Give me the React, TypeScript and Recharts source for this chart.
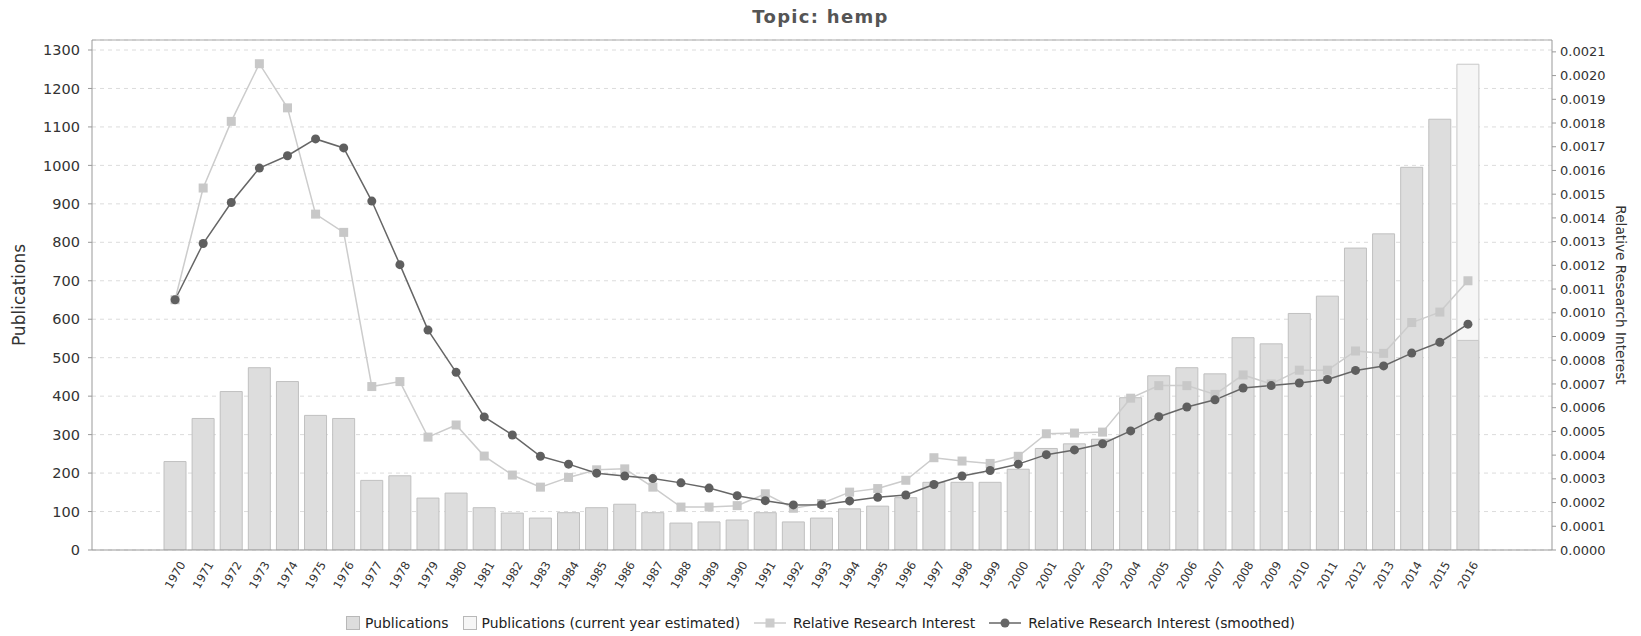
import {
	ComposedChart,
	Bar,
	Line,
	XAxis,
	YAxis,
	CartesianGrid,
	ReferenceLine,
} from "recharts";

const years = [
	"1970", "1971", "1972", "1973", "1974", "1975", "1976", "1977", "1978", "1979",
	"1980", "1981", "1982", "1983", "1984", "1985", "1986", "1987", "1988", "1989",
	"1990", "1991", "1992", "1993", "1994", "1995", "1996", "1997", "1998", "1999",
	"2000", "2001", "2002", "2003", "2004", "2005", "2006", "2007", "2008", "2009",
	"2010", "2011", "2012", "2013", "2014", "2015", "2016",
];

const publications = [
	230, 342, 412, 474, 438, 350, 342, 181, 193, 135,
	148, 110, 96, 83, 97, 110, 119, 97, 70, 73,
	78, 97, 73, 83, 107, 114, 136, 176, 176, 176,
	210, 264, 276, 288, 396, 453, 474, 458, 552, 536,
	615, 660, 785, 822, 995, 1120, 545,
];

// only the current year has an estimate
const estimatedYear = "2016";
const estimatedTotal = 1263;

const relativeInterest = [
	0.001055, 0.001526, 0.001807, 0.00205, 0.001864, 0.001416, 0.001339, 0.000689, 0.00071, 0.000476,
	0.000527, 0.000396, 0.000316, 0.000265, 0.000306, 0.000338, 0.000342, 0.000265, 0.000181, 0.000181,
	0.000187, 0.000237, 0.000176, 0.000196, 0.000244, 0.000259, 0.000294, 0.000389, 0.000375, 0.000365,
	0.000395, 0.00049, 0.000493, 0.000497, 0.00064, 0.000693, 0.000693, 0.000656, 0.000738, 0.0007,
	0.000758, 0.000758, 0.000839, 0.000829, 0.000959, 0.001003, 0.001135,
];

const relativeSmoothed = [
	0.001055, 0.001292, 0.001465, 0.00161, 0.001662, 0.001733, 0.001695, 0.001471, 0.001203, 0.000927,
	0.000749, 0.000561, 0.000485, 0.000395, 0.000362, 0.000324, 0.000312, 0.000301, 0.000283, 0.000261,
	0.000229, 0.000208, 0.00019, 0.000191, 0.000207, 0.000222, 0.000232, 0.000276, 0.000312, 0.000335,
	0.000362, 0.000402, 0.000422, 0.000448, 0.000502, 0.000562, 0.000603, 0.000633, 0.000683, 0.000693,
	0.000704, 0.000719, 0.000757, 0.000776, 0.00083, 0.000876, 0.000952,
];

const leftTicks = [0, 100, 200, 300, 400, 500, 600, 700, 800, 900, 1000, 1100, 1200, 1300];
const rightTicks = [
	0, 0.0001, 0.0002, 0.0003, 0.0004, 0.0005, 0.0006, 0.0007, 0.0008, 0.0009, 0.001,
	0.0011, 0.0012, 0.0013, 0.0014, 0.0015, 0.0016, 0.0017, 0.0018, 0.0019, 0.002, 0.0021,
];

const data = years.map((year, i) => ({
	year,
	publications: publications[i],
	estimated: year === estimatedYear ? estimatedTotal - publications[i] : null,
	raw: relativeInterest[i],
	smoothed: relativeSmoothed[i],
}));

const FONT = "DejaVu Sans, sans-serif";

const YearTick = ({ x, y, payload }: any) => {
	const ty = y + 17;
	return (
		<text
			x={x}
			y={ty}
			transform={`rotate(-60 ${x} ${ty})`}
			textAnchor="middle"
			dominantBaseline="central"
			fontSize={11.5}
			fontFamily={FONT}
			fill="#333"
		>
			{payload.value}
		</text>
	);
};

const SquareDot = ({ cx, cy, index }: any) => (
	<rect
		key={`sq-${index}`}
		x={cx - 4.5}
		y={cy - 4.5}
		width={9}
		height={9}
		fill="#c8c8c8"
	/>
);

const LegendBar = ({ fill }: { fill: string }) => (
	<svg width={14} height={14} style={{ display: "block" }}>
		<rect x={0.5} y={0.5} width={13} height={13} fill={fill} stroke="#b8b8b8" />
	</svg>
);

const LegendLine = ({ color, marker }: { color: string; marker: "square" | "circle" }) => (
	<svg width={32} height={14} style={{ display: "block" }}>
		<line x1={0} y1={7} x2={32} y2={7} stroke={color} strokeWidth={1.5} />
		{marker === "square" ? (
			<rect x={11.5} y={2.5} width={9} height={9} fill={color} />
		) : (
			<circle cx={16} cy={7} r={4.5} fill={color} />
		)}
	</svg>
);

export default function App() {
	return (
		<div
			style={{
				position: "absolute",
				left: 0,
				top: 0,
				width: 1641,
				height: 636,
				background: "#fff",
			}}
		>
			<div
				style={{
					position: "absolute",
					top: 6,
					left: 0,
					width: 1641,
					textAlign: "center",
					fontFamily: FONT,
					fontWeight: "bold",
					fontSize: 18,
					letterSpacing: 1.3,
					color: "#555",
				}}
			>
				Topic: hemp
			</div>

			<ComposedChart
				width={1641}
				height={636}
				data={data}
				margin={{ top: 40, right: 0, bottom: 36, left: 0 }}
				barSize={22}
			>
				<CartesianGrid
					yAxisId="left"
					vertical={false}
					stroke="#dcdcdc"
					strokeDasharray="4 4"
				/>
				<XAxis
					dataKey="year"
					interval={0}
					height={50}
					padding={{ left: 69, right: 70 }}
					tickLine={false}
					axisLine={{ stroke: "#999" }}
					tick={<YearTick />}
				/>
				<YAxis
					yAxisId="left"
					width={92}
					domain={[0, 1326]}
					ticks={leftTicks}
					allowDataOverflow
					tickSize={4}
					tickMargin={8}
					axisLine={{ stroke: "#999" }}
					tickLine={{ stroke: "#999" }}
					tick={{ fontSize: 14.5, fill: "#333", fontFamily: FONT }}
					label={({ viewBox }: any) => (
						<text
							x={19}
							y={viewBox.y + viewBox.height / 2}
							transform={`rotate(-90 19 ${viewBox.y + viewBox.height / 2})`}
							textAnchor="middle"
							dominantBaseline="central"
							fontSize={17}
							fontFamily={FONT}
							fill="#333"
						>
							Publications
						</text>
					)}
				/>
				<YAxis
					yAxisId="right"
					orientation="right"
					width={89}
					domain={[0, 0.00215]}
					ticks={rightTicks}
					allowDataOverflow
					tickSize={4}
					tickMargin={4}
					tickFormatter={(v: number) => v.toFixed(4)}
					axisLine={{ stroke: "#999" }}
					tickLine={{ stroke: "#999" }}
					tick={{ fontSize: 13, fill: "#333", fontFamily: FONT, textAnchor: "start" }}
					label={({ viewBox }: any) => (
						<text
							x={1621}
							y={viewBox.y + viewBox.height / 2}
							transform={`rotate(90 1621 ${viewBox.y + viewBox.height / 2})`}
							textAnchor="middle"
							dominantBaseline="central"
							fontSize={13.7}
							fontFamily={FONT}
							fill="#333"
						>
							Relative Research Interest
						</text>
					)}
				/>
				<ReferenceLine yAxisId="left" y={1326} stroke="#aaa" />
				<Bar
					yAxisId="left"
					dataKey="publications"
					stackId="pub"
					fill="#dddddd"
					stroke="#c0c0c0"
					isAnimationActive={false}
				/>
				<Bar
					yAxisId="left"
					dataKey="estimated"
					stackId="pub"
					fill="#f6f6f6"
					stroke="#c8c8c8"
					isAnimationActive={false}
				/>
				<Line
					yAxisId="right"
					dataKey="raw"
					stroke="#cccccc"
					strokeWidth={1.5}
					dot={<SquareDot />}
					activeDot={false}
					isAnimationActive={false}
				/>
				<Line
					yAxisId="right"
					dataKey="smoothed"
					stroke="#666666"
					strokeWidth={1.5}
					dot={{ r: 4.5, fill: "#5f5f5f", stroke: "none" }}
					activeDot={false}
					isAnimationActive={false}
				/>
			</ComposedChart>

			<div
				style={{
					position: "absolute",
					top: 615,
					left: 0,
					width: 1641,
					display: "flex",
					justifyContent: "center",
					alignItems: "center",
					fontFamily: FONT,
					fontSize: 13.9,
					color: "#222",
				}}
			>
				<div style={{ display: "flex", alignItems: "center", gap: 5, marginRight: 14 }}>
					<LegendBar fill="#dddddd" />
					<span>Publications</span>
				</div>
				<div style={{ display: "flex", alignItems: "center", gap: 5, marginRight: 14 }}>
					<LegendBar fill="#f6f6f6" />
					<span>Publications (current year estimated)</span>
				</div>
				<div style={{ display: "flex", alignItems: "center", gap: 7, marginRight: 14 }}>
					<LegendLine color="#cccccc" marker="square" />
					<span>Relative Research Interest</span>
				</div>
				<div style={{ display: "flex", alignItems: "center", gap: 7 }}>
					<LegendLine color="#666666" marker="circle" />
					<span>Relative Research Interest (smoothed)</span>
				</div>
			</div>
		</div>
	);
}
